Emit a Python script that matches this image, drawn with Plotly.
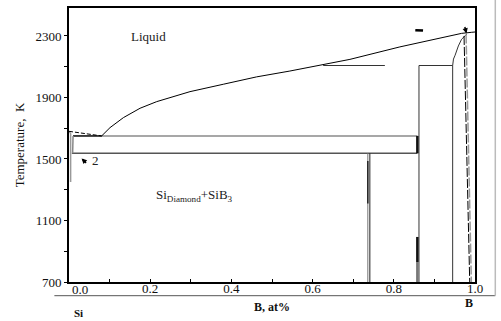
import plotly.graph_objects as go

# ---------------- data ----------------
liq_x = [0.0805, 0.101, 0.134, 0.175, 0.216, 0.298, 0.380, 0.462, 0.544, 0.626, 0.692, 0.815, 0.938, 0.967, 0.992, 1.0]
liq_T = [1650, 1704, 1769, 1830, 1873, 1938, 1986, 2034, 2072, 2116, 2148, 2229, 2297, 2317, 2324, 2326]

meta_x = [0.0, 0.0805]          # dashed line from Si melting point to eutectic
meta_T = [1680, 1650]

eut_x = [0.010, 0.858]          # upper (eutectic) isotherm
eut_T = [1650, 1650]
eut_dark_x = [0.010, 0.0805]
eut_dark_T = [1650, 1650]

low_x = [0.007, 0.858]          # lower isotherm
low_T = [1537, 1537]

solv1_x = [0.0, 0.004, 0.004]
solv1_T = [1680, 1665, 1350]
solv2_x = [0.010, 0.009]
solv2_T = [1650, 1537]

per_x = [0.626, 0.778]          # peritectic isotherm
per_T = [2108, 2108]

sib3_a_x = [0.741, 0.741]
sib3_a_T = [1537, 700]
sib3_b_x = [0.736, 0.736]
sib3_b_T = [1537, 700]
sib3_thick_x = [0.736, 0.736]
sib3_thick_T = [1487, 1210]

sib6_x = [0.862, 0.862]
sib6_T = [2108, 700]
sib6_thick_x = [0.858, 0.858]
sib6_thick_T = [1650, 1537]
sib6_low_x = [0.858, 0.858]
sib6_low_T = [993, 830]
sib6_gray_x = [0.858, 0.858]
sib6_gray_T = [830, 700]

box_x = [0.862, 0.945, 0.945]
box_T = [2108, 2108, 700]

arc_x = [0.945, 0.947, 0.951, 0.959, 0.967, 0.973, 0.980]
arc_T = [2108, 2150, 2175, 2235, 2279, 2296, 2313]

dash1_x = [0.973, 0.987]
dash1_T = [2300, 700]
dash2_x = [0.978, 0.991]
dash2_T = [2310, 700]

mark_x = [0.853, 0.872]
mark_T = [2338, 2335]

x_ticks = [0.0, 0.2, 0.4, 0.6, 0.8, 1.0]
x_ticktext = ["0.0", "0.2", "0.4", "0.6", "0.8", "1.0"]
y_ticks = [700, 1100, 1500, 1900, 2300]
y_ticktext = ["700", "1100", "1500", "1900", "2300"]

FONT = "Liberation Serif"

fig = go.Figure()

def add_line(x, y, color="black", width=1.0, dash=None):
    fig.add_trace(go.Scatter(x=x, y=y, mode="lines",
                             line=dict(color=color, width=width, dash=dash),
                             hoverinfo="skip", showlegend=False))

add_line(eut_x, eut_T, "#8a8a8a", 1.5)
add_line(eut_dark_x, eut_dark_T, "#222", 1.5)
add_line(low_x, low_T, "#555", 1.5)
add_line(solv1_x, solv1_T, "#999", 1.5)
add_line(solv2_x, solv2_T, "#888", 1.5)
add_line(meta_x, meta_T, "black", 1, "4px,2px")
add_line(liq_x, liq_T, "black", 1)
add_line(per_x, per_T, "#333", 1)
add_line(sib3_b_x, sib3_b_T, "#777", 1)
add_line(sib3_a_x, sib3_a_T, "#222", 1)
add_line(sib3_thick_x, sib3_thick_T, "#222", 1.5)
add_line(sib6_x, sib6_T, "#333", 1)
add_line(sib6_thick_x, sib6_thick_T, "#111", 2.5)
add_line(sib6_low_x, sib6_low_T, "#111", 2.5)
add_line(sib6_gray_x, sib6_gray_T, "#777", 2.5)
add_line(box_x, box_T, "#333", 1)
add_line(arc_x, arc_T, "#333", 1)
add_line(dash2_x, dash2_T, "#999", 1.5, "9px,2px")
add_line(dash1_x, dash1_T, "black", 1, "9px,2px")
add_line(mark_x, mark_T, "black", 2.5)

# first x tick label is drawn as a right-shifted text (as in the original), the rest by the axis
axis_ticktext = [""] + x_ticktext[1:]

fig.update_layout(
    template="none",
    width=501, height=321,
    margin=dict(l=69, r=26, t=8, b=39, autoexpand=False),
    paper_bgcolor="white", plot_bgcolor="white",
    font=dict(family=FONT, size=13, color="#111"),
    xaxis=dict(range=[0, 1], tickvals=x_ticks, ticktext=axis_ticktext,
               showgrid=False, zeroline=False,
               showline=True, linecolor="black", linewidth=2, mirror=True,
               ticks="inside", ticklen=3, tickcolor="black", ticklabelstandoff=-7,
               minor=dict(dtick=0.1, ticks="inside", ticklen=3, tickcolor="black", showgrid=False),
               tickfont=dict(family=FONT, size=13, color="#111")),
    yaxis=dict(range=[700, 2482], tickvals=y_ticks, ticktext=y_ticktext,
               showgrid=False, zeroline=False,
               showline=True, linecolor="black", linewidth=2, mirror=True,
               ticks="outside", ticklen=3, tickcolor="black",
               minor=dict(dtick=200, tick0=700, ticks="outside", ticklen=3, tickcolor="black",
                          showgrid=False),
               tickfont=dict(family=FONT, size=13, color="#111"),
               title=dict(text="Temperature,  K", font=dict(family=FONT, size=13, color="#111"),
                          standoff=8)),
)

# outer frame lines (decorative)
fig.add_shape(type="line", xref="paper", yref="paper", x0=-0.036, x1=1.05, y0=-0.05, y1=-0.05,
              line=dict(color="#555", width=1))
fig.add_shape(type="line", xref="paper", yref="paper", x0=1.05, x1=1.05, y0=-0.05, y1=1.03,
              line=dict(color="#bbb", width=1.5))

ann = [
    dict(x=x_ticks[0], xref="x", yref="paper", y=-0.027, xanchor="left", yanchor="middle",
         xshift=1, text=x_ticktext[0], showarrow=False, font=dict(size=13, color="#111")),
    dict(x=0.195, y=2297, text="Liquid", showarrow=False, font=dict(size=13, color="#222")),
    dict(x=0.31, y=1263, text="Si<sub>Diamond</sub>+SiB<sub>3</sub>", showarrow=False,
         font=dict(size=13, color="#222")),
    dict(x=0.065, y=1492, text="2", showarrow=False, font=dict(size=13, color="#222")),
    dict(x=0.031, y=1504, text="", showarrow=True, ax=6, ay=6, arrowhead=2, arrowsize=0.7,
         arrowwidth=1.5, arrowcolor="black"),
    dict(x=0.979, y=2316, text="", showarrow=True, ax=-2, ay=-8, arrowhead=2, arrowsize=0.7,
         arrowwidth=1.5, arrowcolor="black"),
    dict(xref="paper", yref="paper", x=0.5, y=-0.092, yanchor="middle",
         text="<b>B, at%</b>", showarrow=False, font=dict(size=12, color="#111")),
    dict(xref="paper", yref="paper", x=0.007, y=-0.113, yanchor="middle",
         text="<b>Si</b>", showarrow=False, font=dict(size=11, color="#111")),
    dict(xref="paper", yref="paper", x=1.0, y=-0.078, yanchor="middle",
         text="<b>B</b>", showarrow=False, font=dict(size=12, color="#111")),
]
fig.update_layout(annotations=ann)

fig.write_html("out.html", config={"displayModeBar": False},
               post_script="document.body.style.margin='0';document.body.style.padding='0';")
